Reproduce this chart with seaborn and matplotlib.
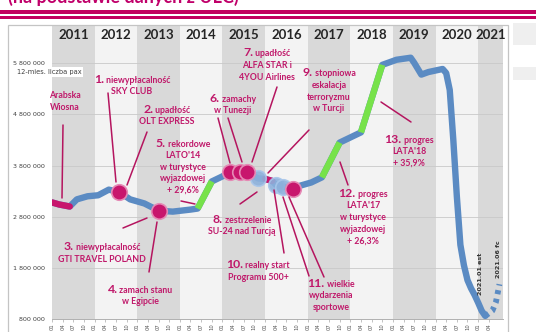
import matplotlib
matplotlib.use("Agg")
import matplotlib.pyplot as plt
import seaborn as sns
import pandas as pd
from matplotlib.patches import Rectangle
from matplotlib.lines import Line2D

# ---------------- data ----------------
years = [2011, 2012, 2013, 2014, 2015, 2016, 2017, 2018, 2019, 2020, 2021]
quarter_labels = ["01", "04", "07", "10"]
y_ticks = [800000, 1800000, 2800000, 3800000, 4800000, 5800000]

# months since 2011-01, 12-month rolling passengers (thousands)
months = [0, 2, 5, 7, 10, 13, 16, 19, 22, 26, 30, 34, 39, 41, 45, 48, 50, 53, 55, 58,
          60, 62, 63, 65, 68, 70, 73, 76, 81, 87, 93, 97, 101, 102, 104, 106, 110, 111,
          112, 113, 114, 115, 116, 117, 118, 119, 120, 121, 122]
pax_k = [3080, 3040, 3000, 3140, 3200, 3220, 3330, 3280, 3140, 3060, 2920, 2900, 2940, 2960,
         3490, 3590, 3670, 3670, 3670, 3550, 3540, 3500, 3430, 3390, 3350, 3410, 3470, 3570,
         4250, 4450, 5770, 5870, 5910, 5810, 5580, 5630, 5690, 5610, 5280, 4310, 3200, 2250,
         1850, 1560, 1400, 1270, 1120, 960, 860]
fc_months = [122, 124, 125, 126]
fc_pax_k = [860, 960, 1130, 1480]

pink_ranges = [(0, 5), (60, 62)]
green_ranges = [(41, 45), (76, 81), (87, 93)]
pink_events = [19, 30, 50, 53, 55, 68]
blue_events = [58, 63, 65]

df = pd.DataFrame({"m": months, "pax": [v * 1000 for v in pax_k]})
fc = pd.DataFrame({"m": fc_months, "pax": [v * 1000 for v in fc_pax_k]})

# ---------------- figure ----------------
W, H = 536, 332
sns.set_theme(style="white")
plt.rcParams["font.family"] = ["Lato", "DejaVu Sans"]

fig = plt.figure(figsize=(W / 100, H / 100), dpi=100)
fig.patch.set_facecolor("white")

def px(x, y):
    return (x / W, 1 - y / H)

# header (cut off at top, as in the source slide)
fig.text(*px(8, 3), "(na podstawie danych z ULC)", fontsize=13, fontweight="bold",
         color="#c0006a", ha="left", va="baseline")
fig.add_artist(Rectangle(px(0, 14), 1, 4.5 / H, transform=fig.transFigure,
                         color="#c2005f", lw=0))
fig.add_artist(Rectangle(px(0, 18.5), 1, 2.3 / H, transform=fig.transFigure,
                         color="#c2005f", lw=0))
# faint background shapes on the right
fig.add_artist(Rectangle(px(513, 45), 23 / W, 22 / H, transform=fig.transFigure,
                         color="#efefef", lw=0))
fig.add_artist(Rectangle(px(513, 80), 23 / W, 13 / H, transform=fig.transFigure,
                         color="#efefef", lw=0))
# chart area border
fig.add_artist(Rectangle(px(8, 340), 500 / W, 315 / H, transform=fig.transFigure,
                         fill=False, ec="#c4c4c4", lw=0.9))

ax = fig.add_axes([52 / W, 13 / H, 451 / W, 294 / H])
ax.set_facecolor("white")
ax.set_xlim(0, 127)
ax.set_ylim(800000, 6550000)

# year bands
for k, yr in enumerate(years):
    x0 = 12 * k
    x1 = min(12 * k + 12, 127)
    ax.axvspan(x0, x1, color="#d9d9d9" if k % 2 == 0 else "#f3f3f3", lw=0, zorder=0)
    ax.text((x0 + x1) / 2, 0.966, str(yr), transform=ax.get_xaxis_transform(),
            ha="center", va="center", fontsize=9.5, fontweight="bold", color="#262626")

for yv in y_ticks:
    ax.axhline(yv, color="#c9c9c9", lw=0.6, zorder=1)

# main line
lw = 4.6
sns.lineplot(data=df, x="m", y="pax", ax=ax, color="#5b8bc3", lw=lw, zorder=3,
             solid_capstyle="round", solid_joinstyle="round", estimator=None, sort=False)
for a, b in green_ranges:
    sub = df[(df.m >= a) & (df.m <= b)]
    sns.lineplot(data=sub, x="m", y="pax", ax=ax, color="#77e24a", lw=lw, zorder=4,
                 solid_capstyle="butt", estimator=None, sort=False)
for a, b in pink_ranges:
    sub = df[(df.m >= a) & (df.m <= b)]
    sns.lineplot(data=sub, x="m", y="pax", ax=ax, color="#c8166d", lw=lw, zorder=4,
                 solid_capstyle="round", estimator=None, sort=False)
# forecast
sns.lineplot(data=fc, x="m", y="pax", ax=ax, color="#5b8bc3", lw=4.2, zorder=3,
             linestyle=(0, (0.7, 0.8)), dash_capstyle="butt", estimator=None, sort=False)

# event circles
pe = df[df.m.isin(pink_events)]
be = df[df.m.isin(blue_events)]
sns.scatterplot(data=be, x="m", y="pax", ax=ax, s=125, color="#8db1dc",
                edgecolor="#a8c6ea", linewidth=1.2, alpha=0.9, zorder=5)
sns.scatterplot(data=pe, x="m", y="pax", ax=ax, s=125, color="#c8166d",
                edgecolor="#e58ab5", linewidth=1.2, zorder=6)

# axes cosmetics
ax.set_yticks(y_ticks)
ax.set_yticklabels([f"{v:,}".replace(",", " ") for v in y_ticks], fontsize=4.6,
                   color="#404040", family="DejaVu Sans")
xt = list(range(0, 126, 3))
ax.set_xticks(xt)
ax.set_xticklabels([quarter_labels[(m % 12) // 3] for m in xt], rotation=90,
                   fontsize=3.8, color="#555555", family="DejaVu Sans")
ax.tick_params(axis="y", length=0, pad=5)
ax.tick_params(axis="x", length=2, width=0.5, color="#aaaaaa", pad=1, bottom=True)
for s in ["left", "top", "right"]:
    ax.spines[s].set_visible(False)
ax.spines["bottom"].set_color("#b0b0b0")
ax.spines["bottom"].set_linewidth(0.7)
ax.set_xlabel("")
ax.set_ylabel("")
ax.grid(False)

fig.text(*px(17, 72), "12-mies. liczba pax", fontsize=4.8, color="#404040",
         ha="left", va="center", family="DejaVu Sans",
         bbox=dict(facecolor="white", edgecolor="none", pad=1.2))

# ---------------- annotations ----------------
TXT = "#c0186a"
LINE = "#b5155f"
FS = 6.3
NFS = 8.8
renderer = fig.canvas.get_renderer()

def block(cx, ys, num, lines):
    if num:
        tn = fig.text(0, 0, num, fontsize=NFS, fontweight="bold", color=TXT,
                      ha="left", va="baseline")
        tf = fig.text(0, 0, lines[0], fontsize=FS, fontweight="bold", color=TXT,
                      ha="left", va="baseline")
        wn = tn.get_window_extent(renderer).width
        wf = tf.get_window_extent(renderer).width
        x0 = cx - (wn + wf) / 2
        tn.set_position(px(x0, ys[0] + 3.2))
        tf.set_position(px(x0 + wn, ys[0] + 3.2))
        rest = zip(ys[1:], lines[1:])
    else:
        rest = zip(ys, lines)
    for y, line in rest:
        fig.text(*px(cx, y), line, fontsize=FS, fontweight="bold", color=TXT,
                 ha="center", va="center")

def lead(p0, p1):
    fig.add_artist(Line2D([p0[0] / W, p1[0] / W], [1 - p0[1] / H, 1 - p1[1] / H],
                          transform=fig.transFigure, color=LINE, lw=1.1, zorder=10))

block(65, [95, 107], None, ["Arabska", "Wiosna"])
block(132, [80, 92], "1.", [" niewypłacalność", "SKY CLUB"])
block(167, [110, 122], "2.", [" upadłość", "OLT EXPRESS"])
block(102, [247, 259], "3.", [" niewypłacalność", "GTI TRAVEL POLAND"])
block(140, [290, 302], "4.", [" zamach stanu", "w Egipcie"])
block(183, [144, 155.5, 167, 178.5, 190], "5.",
      [" rekordowe", "LATO'14", "w turystyce", "wyjazdowej", "+ 29,6%"])
block(233, [99, 111], "6.", [" zamachy", "w Tunezji"])
block(267, [53, 65, 77], "7.", [" upadłość", "ALFA STAR i", "4YOU Airlines"])
block(242, [220, 232], "8.", [" zestrzelenie", "SU-24 nad Turcją"])
block(329, [73, 85, 97, 108], "9.", [" stopniowa", "eskalacja", "terroryzmu", "w Turcji"])
block(258, [265, 278], "10.", [" realny start", "Programu 500+"])
block(331, [284, 296, 308], "11.", [" wielkie", "wydarzenia", "sportowe"])
block(363, [194, 206, 218, 229.5, 241], "12.",
      [" progres", "LATA'17", "w turystyce", "wyjazdowej", "+ 26,3%"])
block(409, [140, 152, 163], "13.", [" progres", "LATA'18", "+ 35,9%"])

lead((63, 125), (62, 198))
lead((108, 93), (116, 182))
lead((147, 132), (127, 185))
lead((123, 228), (147, 218))
lead((149, 272), (157, 222))
lead((181, 201), (195, 204))
lead((218, 118), (230, 163))
lead((228, 118), (242, 162))
lead((277, 87), (252, 162))
lead((240, 204), (257, 192))
lead((309, 130), (268, 173))
lead((274, 190), (284, 253))
lead((283, 197), (309, 276))
lead((289, 197), (324, 277))
lead((340, 162), (348, 185))
lead((381, 102), (411, 122))

fig.text(*px(481, 274), "2021.01 est", rotation=90, fontsize=4.6, fontweight="bold",
         color="#333333", ha="center", va="center", family="DejaVu Sans")
fig.text(*px(498, 259), "2021.06 fc", rotation=90, fontsize=4.6, fontweight="bold",
         color="#333333", ha="center", va="center", family="DejaVu Sans")

fig.savefig("out.png", dpi=100, facecolor="white")
